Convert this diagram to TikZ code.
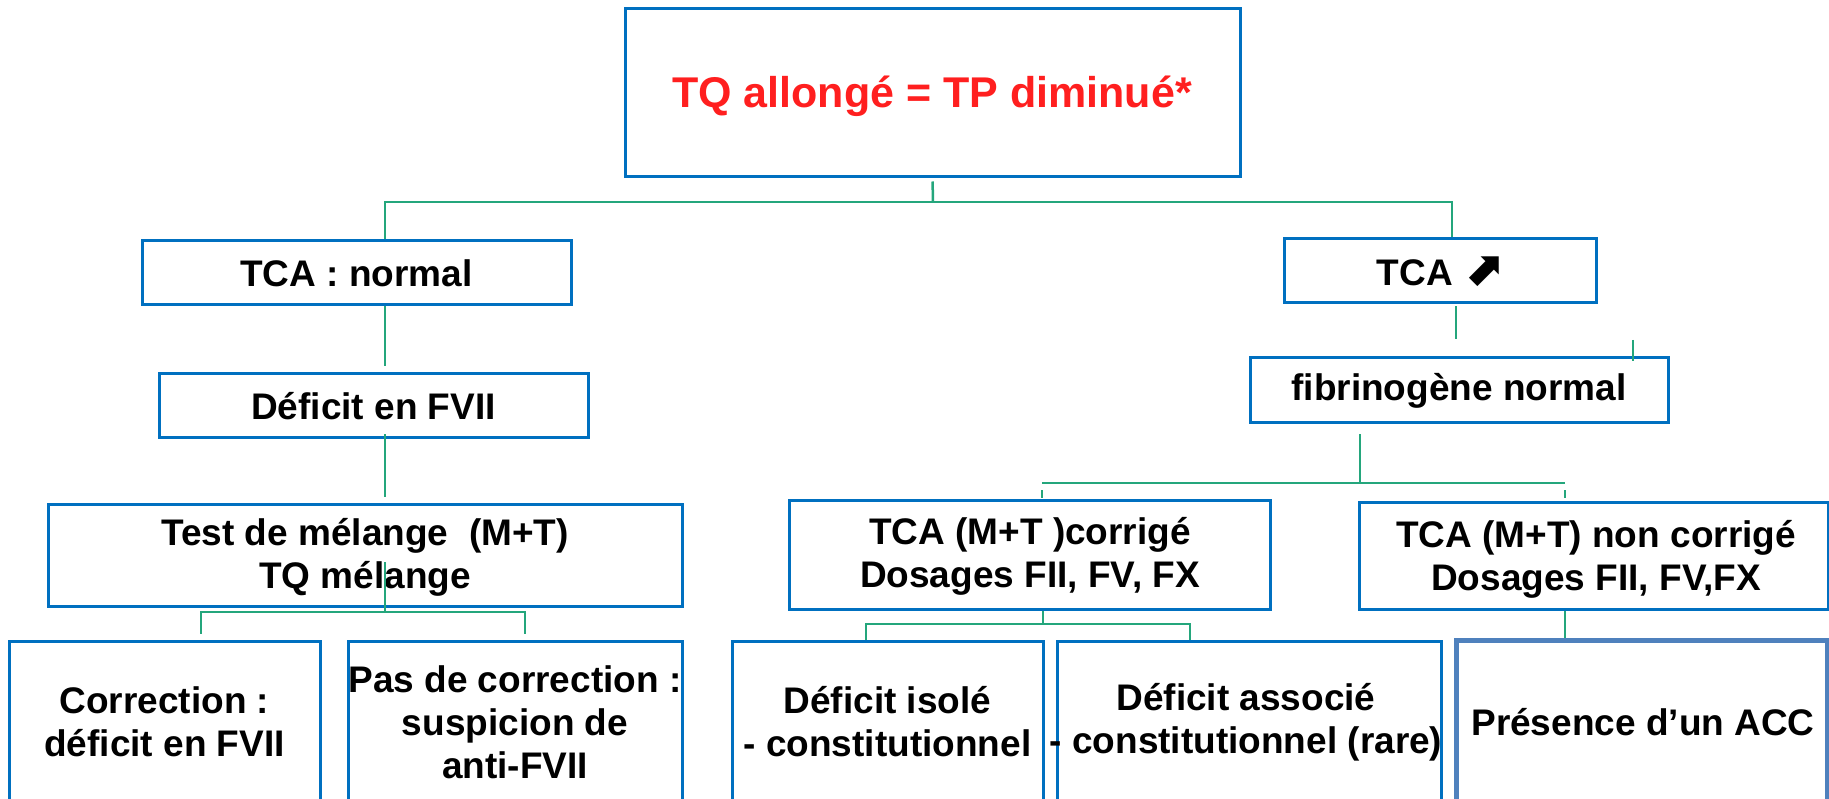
\documentclass[tikz,border=0pt]{standalone}
\usepackage{fontspec}
\setmainfont{Liberation Sans}
\newfontfamily\symfont{DejaVu Sans}
\definecolor{boxblue}{HTML}{0070C0}
\definecolor{accblue}{HTML}{4F81BD}
\definecolor{conngreen}{HTML}{24A67C}
\definecolor{titlered}{HTML}{FF1F1F}
\tikzset{
  box/.style={draw=boxblue, line width=3pt, inner sep=0pt, fill=none},
  accbox/.style={draw=accblue, line width=5pt, inner sep=0pt},
  txt/.style={font=\fontsize{37}{43}\selectfont\bfseries, align=center, inner sep=0pt, text=black},
  conn/.style={draw=conngreen, line width=2.5pt},
}
\begin{document}
\begin{tikzpicture}[x=1pt, y=-1pt]
\clip (0,0) rectangle (1829,799);
\fill[white] (0,0) rectangle (1829,799);
% boxes
\node[box, minimum width=615pt, minimum height=168pt] (top) at (932.5,93) {};
\node[box, minimum width=429pt, minimum height=64pt] (tcan) at (356.5,273) {};
\node[box, minimum width=429pt, minimum height=64pt] (def7) at (373.5,406) {};
\node[box, minimum width=634pt, minimum height=102pt] (test) at (365,555) {};
\node[box, minimum width=311pt, minimum height=200pt] (corr) at (164.5,741) {};
\node[box, minimum width=334pt, minimum height=200pt] (pasc) at (515,741) {};
\node[box, minimum width=312pt, minimum height=64pt] (tcaup) at (1440,271) {};
\node[box, minimum width=418pt, minimum height=65pt] (fib) at (1459,390.5) {};
\node[box, minimum width=481pt, minimum height=109pt] (corrige) at (1029.5,554.5) {};
\node[box, minimum width=469pt, minimum height=107pt] (noncorr) at (1593.5,555.5) {};
\node[box, minimum width=311pt, minimum height=200pt] (isole) at (887.5,741) {};
\node[box, minimum width=384pt, minimum height=200pt] (assoc) at (1249,741) {};
\node[accbox, minimum width=371pt, minimum height=200pt] (acc) at (1641.5,740) {};
% texts
\node[txt, font=\fontsize{43}{50}\selectfont\bfseries, text=titlered] (ttop) at (932,96) {TQ allongé = TP diminué*};
\node[txt] (ttcan) at (tcan) {TCA : normal};
\node[txt] (tdef7) at (def7) {Déficit en FVII};
\node[txt] (ttest) at (365,557) {Test de mélange\ \ (M+T)\\TQ mélange};
\node[txt] (tcorr) at (164.5,722) {Correction :\\déficit en FVII};
\node[txt] (tpasc) at (515,722) {Pas de correction :\\suspicion de\\anti-FVII};
\node[txt, anchor=base] (ttcaup) at (1440,286) {TCA {\symfont\fontsize{48}{50}\selectfont ⬈}};
\node[txt] (tfib) at (fib) {fibrinogène normal};
\node[txt] (tcorrige) at (1030,556) {TCA (M+T )corrigé\\Dosages FII, FV, FX};
\node[txt] (tnoncorr) at (1596,559) {TCA (M+T) non corrigé\\Dosages FII, FV,FX};
\node[txt] (tisole) at (887.5,722) {Déficit isolé\\- constitutionnel};
\node[txt] (tassoc) at (1246,722) {Déficit associé\\- constitutionnel (rare)};
\node[txt] (tacc) at (1643,722) {Présence d’un ACC};
% junction coordinates
\coordinate (j0) at (933,202);
\coordinate (jL) at (385,202);
\coordinate (jR) at (1452,202);
\coordinate (tA) at (385,562);
\coordinate (jT) at (385,612);
\coordinate (jTL) at (201,612);
\coordinate (jTR) at (525,612);
\coordinate (r1) at (1456,339);
\coordinate (tk1) at (1633,340);
\coordinate (j2) at (1360,483);
\coordinate (j2L) at (1042,483);
\coordinate (j2R) at (1565,483);
\coordinate (j3) at (1043,624);
\coordinate (j3L) at (866,624);
\coordinate (j3R) at (1190,624);
\coordinate (j4) at (1565,609);
% connectors left
\draw[conn, shorten <=3pt] (top.south) -- (j0);
\draw[conn] (tcan.north -| jL) |- (j0) -| (tcaup.north -| jR);
\draw[conn, shorten >=6pt] (tcan.south -| jL) -- (def7.north -| jL);
\draw[conn, shorten <=-5pt, shorten >=6pt] (def7.south -| jL) -- (test.north -| jL);
\draw[conn] (tA) -- (jT);
\draw[conn, shorten <=6pt] (corr.north -| jTL) |- (jT);
\draw[conn, shorten >=6pt] (jT) -| (pasc.north -| jTR);
% connectors right
\draw[conn, shorten <=2pt] (tcaup.south -| r1) -- (r1);
\draw[conn, shorten >=-5pt] (tk1) -- (fib.north -| tk1);
\draw[conn, shorten <=10pt] (fib.south -| j2) -- (j2);
\draw[conn] (j2L) -- (j2R);
\draw[conn, shorten <=1pt] (corrige.north -| j2L) -- ([yshift=-7pt]j2L);
\draw[conn, shorten <=3pt] (noncorr.north -| j2R) -- ([yshift=-7pt]j2R);
\draw[conn] (corrige.south -| j3) -- (j3);
\draw[conn] (isole.north -| j3L) |- (j3) -| (assoc.north -| j3R);
\draw[conn] (noncorr.south -| j4) -- (acc.north -| j4);
\end{tikzpicture}
\end{document}
